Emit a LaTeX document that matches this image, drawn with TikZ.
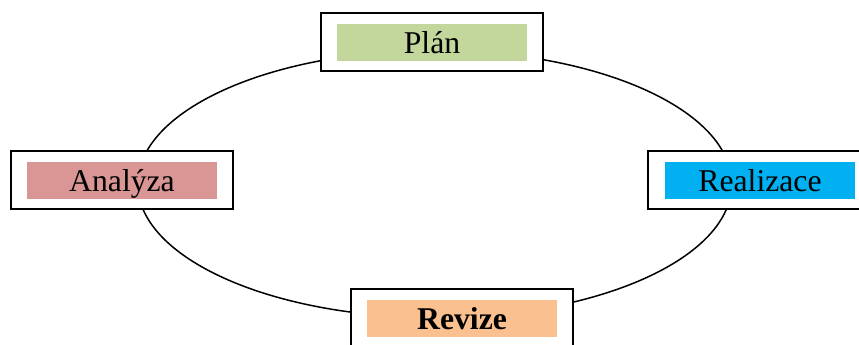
\documentclass[tikz,border=0pt]{standalone}
\usepackage{fontspec}
\setmainfont{Liberation Serif}
\definecolor{cplan}{HTML}{C3D69B}
\definecolor{canal}{HTML}{D99694}
\definecolor{creal}{HTML}{00B0F0}
\definecolor{crev}{HTML}{FAC090}
\tikzset{
  outerbox/.style={draw=black, line width=2pt, fill=white, inner sep=0pt, minimum width=222pt, minimum height=58pt},
  innerbox/.style={inner sep=0pt, minimum width=190pt, minimum height=37pt, text height=21pt, text depth=0pt, font=\fontsize{31.7}{38}\selectfont},
  cycleline/.style={draw=black, line width=1.5pt}
}
\begin{document}
\begin{tikzpicture}[x=1pt,y=-1pt]
\useasboundingbox (0,0) rectangle (859,345);
\clip (0,0) rectangle (859,345);
\fill[white] (0,0) rectangle (859,345);
% cycle
\draw[cycleline] (434.7,184) ellipse [x radius=297, y radius=133.5];
% Plan
\node[outerbox] (planbox) at (431.5,42) {};
\node[innerbox, fill=cplan] (plan) at (432,42.5) {Plán};
% Analyza
\node[outerbox] (analbox) at (121.5,180) {};
\node[innerbox, fill=canal] (anal) at (122,180.5) {Analýza};
% Realizace (cut at right edge)
\node[outerbox] (realbox) at (759,180) {};
\node[innerbox, fill=creal] (real) at (760,180.5) {Realizace};
% Revize (cut at bottom edge)
\node[outerbox] (revbox) at (461.5,318) {};
\node[innerbox, fill=crev, font=\fontsize{31.7}{38}\selectfont\bfseries] (rev) at (462,318.5) {Revize};
\end{tikzpicture}
\end{document}
